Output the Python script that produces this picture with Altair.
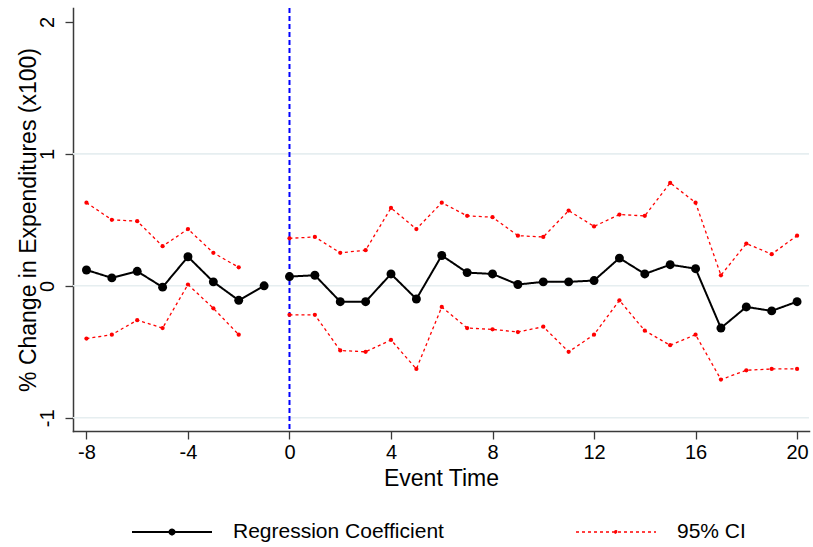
import altair as alt
import pandas as pd

# ---------------- data ----------------
event_time = list(range(-8, 21))
coef = [0.12, 0.06, 0.11, -0.01, 0.22, 0.03, -0.11, 0.00,
        0.07, 0.08, -0.12, -0.12, 0.09, -0.10, 0.23, 0.10, 0.09, 0.01,
        0.03, 0.03, 0.04, 0.21, 0.09, 0.16, 0.13, -0.32, -0.16, -0.19, -0.12]
ci_upper = [0.63, 0.50, 0.49, 0.30, 0.43, 0.25, 0.14, None,
            0.36, 0.37, 0.25, 0.27, 0.59, 0.43, 0.63, 0.53, 0.52, 0.38,
            0.37, 0.57, 0.45, 0.54, 0.53, 0.78, 0.63, 0.08, 0.32, 0.24, 0.38]
ci_lower = [-0.40, -0.37, -0.26, -0.32, 0.01, -0.17, -0.37, None,
            -0.22, -0.22, -0.49, -0.50, -0.41, -0.63, -0.16, -0.32, -0.33, -0.35,
            -0.31, -0.50, -0.37, -0.11, -0.34, -0.45, -0.37, -0.71, -0.64, -0.63, -0.63]
x_ticks = [-8, -4, 0, 4, 8, 12, 16, 20]
y_ticks = [-1, 0, 1, 2]
grid_vals = [-1, 0, 1]
event_line = [0]
series_names = ["Regression Coefficient", "95% CI"]

# ---------------- build long table ----------------
rows = []
for t, c, u, l in zip(event_time, coef, ci_upper, ci_lower):
    seg = "pre" if t < 0 else "post"
    rows.append({"t": t, "v": c, "series": series_names[0], "line": "coef-" + seg})
    if u is not None:
        rows.append({"t": t, "v": u, "series": series_names[1], "line": "up-" + seg})
    if l is not None:
        rows.append({"t": t, "v": l, "series": series_names[1], "line": "lo-" + seg})
df = pd.DataFrame(rows)
df_coef = df[df.series == series_names[0]]
df_ci = df[df.series == series_names[1]]

FONT = "Liberation Sans"
W, H = 736, 423
AX = "#3a3a3a"

xscale = alt.Scale(domain=[-8.53, 20.47], nice=False, zero=False)
yscale = alt.Scale(domain=[-1.10, 2.105], nice=False, zero=False)

xaxis = alt.Axis(values=x_ticks, title="Event Time", grid=False,
                 labelExpr="toString(datum.value)",
                 domainColor=AX, domainWidth=1.5, tickColor=AX, tickWidth=1.3,
                 tickSize=8, labelFontSize=20, labelPadding=3, labelFont=FONT,
                 labelColor="black", titleFont=FONT, titleFontSize=23,
                 titleFontWeight="normal", titleColor="black",
                 titleBaseline="alphabetic", titleY=54)
yaxis = alt.Axis(values=y_ticks, title="% Change in Expenditures (x100)", grid=False,
                 labelExpr="toString(datum.value)",
                 domainColor=AX, domainWidth=1.5, tickColor=AX, tickWidth=1.3,
                 tickSize=8, labelFontSize=20, labelPadding=12, labelFont=FONT,
                 labelAngle=270, labelAlign="center", labelBaseline="alphabetic",
                 labelColor="black", titleFont=FONT, titleFontSize=23,
                 titleFontWeight="normal", titleColor="black", titleAngle=270,
                 titleBaseline="alphabetic", titleAlign="center",
                 titleX=-38, titleY=H / 2)

grid = alt.Chart(pd.DataFrame({"g": grid_vals})).mark_rule(
    color="#E6EEF0", strokeWidth=1.6
).encode(y=alt.Y("g:Q", scale=yscale, axis=yaxis))

vline = alt.Chart(pd.DataFrame({"x0": event_line})).mark_rule(
    color="#0000FF", strokeWidth=2, strokeDash=[5, 3]
).encode(x=alt.X("x0:Q", scale=xscale, axis=xaxis))

big = "M-4,0H4M-0.25,0A0.25,0.25 0 1,1 0.25,0A0.25,0.25 0 1,1 -0.25,0Z"
small = "M-4,0H4M-0.14,0A0.14,0.14 0 1,1 0.14,0A0.14,0.14 0 1,1 -0.14,0Z"
rc = series_names[0]

legend = alt.Legend(
    title=None, orient="none", direction="horizontal", columns=2,
    legendX=59, legendY=513, padding=0, columnPadding=129,
    symbolSize=400, symbolOffset=29, labelOffset=50,
    labelFont=FONT, labelFontSize=21, labelColor="black", labelLimit=400,
    symbolType=alt.ExprRef(expr=f"datum.value == '{rc}' ? '{big}' : '{small}'"),
    symbolFillColor=alt.ExprRef(expr=f"datum.value == '{rc}' ? 'black' : 'red'"),
    symbolStrokeWidth=alt.ExprRef(expr=f"datum.value == '{rc}' ? 2 : 1.2"),
)

lines = alt.Chart(df).mark_line().encode(
    x=alt.X("t:Q", scale=xscale, axis=xaxis),
    y=alt.Y("v:Q", scale=yscale, axis=yaxis),
    detail="line:N",
    color=alt.Color("series:N", scale=alt.Scale(domain=series_names, range=["black", "red"]),
                    legend=legend),
    strokeDash=alt.StrokeDash("series:N", scale=alt.Scale(domain=series_names,
                                                          range=[[1, 0], [3, 3]]),
                              legend=legend),
    strokeWidth=alt.StrokeWidth("series:N", scale=alt.Scale(domain=series_names,
                                                            range=[2, 1.3]),
                                legend=None),
    order="t:Q",
)

pts_ci = alt.Chart(df_ci).mark_circle(color="red", size=18, opacity=1).encode(
    x=alt.X("t:Q", scale=xscale, axis=xaxis),
    y=alt.Y("v:Q", scale=yscale, axis=yaxis),
)
pts_coef = alt.Chart(df_coef).mark_circle(color="black", size=80, opacity=1).encode(
    x=alt.X("t:Q", scale=xscale, axis=xaxis),
    y=alt.Y("v:Q", scale=yscale, axis=yaxis),
)

chart = alt.layer(grid, vline, lines, pts_ci, pts_coef).properties(
    width=W, height=H,
    autosize=alt.AutoSizeParams(type="none"),
    padding={"left": 73, "top": 8, "right": 4, "bottom": 116},
    background="white",
).configure_view(stroke=None).configure_axis(
    domainCap="square"
)

chart.save("out.html", embed_options={"renderer": "svg", "actions": False})
